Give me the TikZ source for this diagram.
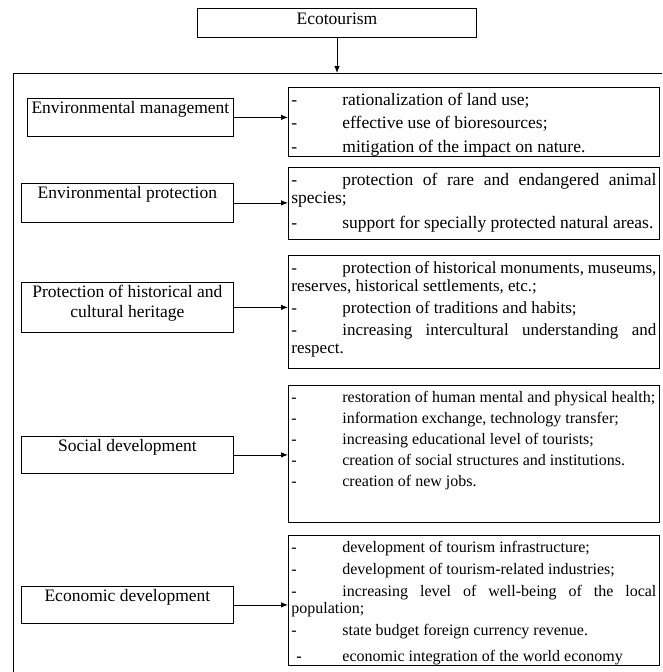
\documentclass[tikz,border=0pt]{standalone}
\usepackage{fontspec}
\setmainfont{Liberation Serif}
\usetikzlibrary{positioning,arrows.meta}

\newcommand{\headfont}{\fontsize{17.5pt}{20pt}\selectfont}
\newcommand{\listfontA}{\fontsize{17.5pt}{18pt}\selectfont}
\newcommand{\listfontC}{\fontsize{17pt}{18pt}\selectfont}
\newcommand{\listfontB}{\fontsize{16pt}{17pt}\selectfont}
\newcommand{\itemdash}{\makebox[51pt][l]{\strut-}}
\newcommand{\boxlabel}[3]{\parbox[c][#1][t]{#2}{\centering\strut #3}}
\newcommand{\itemlist}[4]{\parbox[c][#1][t]{365pt}{#2\setlength{\parskip}{#3}#4}}

\begin{document}
\begin{tikzpicture}[x=1pt,y=-1pt,
	box/.style={draw,line width=0.8pt,inner xsep=3pt,anchor=north west},
	headbox/.style={draw,line width=0.8pt,minimum width=279pt,inner xsep=3pt,inner ysep=4pt,text height=12pt,text depth=9pt,font=\headfont},
	labelbox/.style={box,inner ysep=1.5pt,font=\headfont},
	listbox/.style={box,inner ysep=5pt},
	link/.style={-{Latex[length=7pt,width=5.5pt]},line width=0.8pt}]
	\useasboundingbox (0,0) rectangle (662,672);
	
	\node (eco)[headbox] at (337,22.5) {Ecotourism};
	\coordinate (frametop) at (337,73);
	\draw[line width=0.8pt] (13,672) -- (13,73) -- (662,73);
	\draw[link] (eco) -- (frametop);
	
	% left column
	\node (envman)[labelbox] at (27,98) {\boxlabel{35pt}{200pt}{Environmental management}};
	\node (envprot)[labelbox] at (21,183) {\boxlabel{36pt}{206pt}{Environmental protection}};
	\node (heritage)[labelbox] at (21,282) {\boxlabel{47pt}{206pt}{Protection of historical and\\ cultural heritage}};
	\node (social)[labelbox] at (21,436) {\boxlabel{34pt}{206pt}{Social development}};
	\node (economic)[labelbox] at (21,586) {\boxlabel{34pt}{206pt}{Economic development}};
	
	% right column
	\node (manlist)[listbox] at (288,87) {\itemlist{59pt}{\listfontA}{5.5pt}{%
		\itemdash rationalization of land use;\par
		\itemdash effective use of bioresources;\par
		\itemdash mitigation of the impact on nature.}};
	\node (protlist)[listbox] at (288,167) {\itemlist{62pt}{\listfontA}{7pt}{%
		\itemdash protection of rare and endangered animal\linebreak species;\par
		\itemdash support for specially protected natural areas.}};
	\node (herlist)[listbox] at (288,255) {\itemlist{103pt}{\listfontC}{4pt}{%
		\itemdash protection of historical monuments, museums,\linebreak reserves, historical settlements, etc.;\par
		\itemdash protection of traditions and habits;\par
		\itemdash increasing intercultural understanding and\linebreak respect.}};
	\node (soclist)[listbox] at (288,385) {\itemlist{127pt}{\listfontB}{4pt}{%
		\itemdash restoration of human mental and physical health;\par
		\itemdash information exchange, technology transfer;\par
		\itemdash increasing educational level of tourists;\par
		\itemdash creation of social structures and institutions.\par
		\itemdash creation of new jobs.}};
	\node (ecolist)[listbox] at (288,535) {\itemlist{120pt}{\listfontB}{5pt}{%
		\itemdash development of tourism infrastructure;\par
		\itemdash development of tourism-related industries;\par
		\itemdash increasing level of well-being of the local\linebreak population;\par
		\itemdash state budget foreign currency revenue.\par
		\vspace{4pt}\makebox[51pt][l]{\strut\hspace{5pt}\textbf{-}}economic integration of the world economy}};
	
	\draw[link] (envman.east) -- (envman.east -| manlist.west);
	\draw[link] (envprot.east) -- (envprot.east -| protlist.west);
	\draw[link] (heritage.east) -- (heritage.east -| herlist.west);
	\draw[link] (social.east) -- (social.east -| soclist.west);
	\draw[link] (economic.east) -- (economic.east -| ecolist.west);
\end{tikzpicture}
\end{document}
